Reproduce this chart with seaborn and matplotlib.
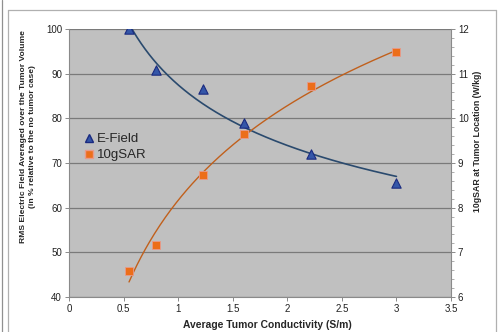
import numpy as np
import pandas as pd
import seaborn as sns
import matplotlib.pyplot as plt
from matplotlib.lines import Line2D
from matplotlib.ticker import MultipleLocator

# data
conductivity = [0.55, 0.8, 1.23, 1.6, 2.22, 3.0]
efield = [100.0, 90.8, 86.5, 79.0, 72.1, 65.5]
sar10g = [6.58, 7.16, 8.74, 9.64, 10.73, 11.49]

df = pd.DataFrame({'cond': conductivity, 'efield': efield, 'sar': sar10g})

# trendlines like the spreadsheet ones: power fit for E-field, log fit for SAR
b, ln_a = np.polyfit(np.log(df['cond']), np.log(df['efield']), 1)
k, c = np.polyfit(np.log(df['cond']), df['sar'], 1)
xs = np.linspace(df['cond'].min(), df['cond'].max(), 200)
trend = pd.DataFrame({'x': xs,
                      'efield': np.exp(ln_a) * xs ** b,
                      'sar': k * np.log(xs) + c})

sns.set_theme(style='white')
plt.rcParams['font.family'] = ['Liberation Sans', 'DejaVu Sans']

fig = plt.figure(figsize=(5.04, 3.32), dpi=100)
ax = fig.add_axes([69/504, 1-297/332, 382/504, 268/332])
ax.set_facecolor('#c0c0c0')
ax2 = ax.twinx()

blue_line = '#2a4a6e'
orange_line = '#c0601c'

sns.lineplot(data=trend, x='x', y='efield', ax=ax, color=blue_line, lw=1.2)
sns.scatterplot(data=df, x='cond', y='efield', ax=ax, marker='^', s=45,
                color='#3456a8', edgecolor='#1a2a80', linewidth=0.8, zorder=5)
sns.lineplot(data=trend, x='x', y='sar', ax=ax2, color=orange_line, lw=1.0)
sns.scatterplot(data=df, x='cond', y='sar', ax=ax2, marker='s', s=36,
                color='#ec6e1a', edgecolor='#e89a8a', linewidth=0.6, zorder=5)

ax.set_xlim(0, 3.5)
ax.set_ylim(40, 100)
ax2.set_ylim(6, 12)
ax.set_xticks(np.arange(0, 3.51, 0.5))
ax.set_xticklabels(['0', '0.5', '1', '1.5', '2', '2.5', '3', '3.5'])
ax.set_yticks(range(40, 101, 10))
ax2.set_yticks(range(6, 13))
ax2.yaxis.set_minor_locator(MultipleLocator(0.2))

ax.yaxis.grid(True, color='#7a7a7a', lw=0.9)
ax.set_axisbelow(True)

for a in (ax, ax2):
    for s in a.spines.values():
        s.set_visible(False)
ax.spines['left'].set_visible(True)
ax.spines['bottom'].set_visible(True)
ax2.spines['right'].set_visible(True)
for s in (ax.spines['left'], ax.spines['bottom'], ax2.spines['right']):
    s.set_color('#8a8a8a')
    s.set_linewidth(0.8)

ax.tick_params(axis='both', which='major', direction='out', length=3, width=0.7,
               color='#8a8a8a', labelsize=7, labelcolor='#222222', pad=2,
               left=True, bottom=True)
ax2.tick_params(axis='y', which='major', direction='out', length=3, width=0.7,
                color='#8a8a8a', labelsize=7, labelcolor='#222222', pad=2, right=True)
ax2.tick_params(axis='y', which='minor', direction='out', length=2, width=0.6,
                color='#a0a0a0', right=True)

ax.set_xlabel('')
ax.set_ylabel('')
ax2.set_ylabel('')

fig.text(267/504, 1-325/332, 'Average Tumor Conductivity (S/m)', ha='center',
         va='center', fontsize=7.4, fontweight='bold')
fig.text(28/504, 1-137/332,
         'RMS Electric Field Averaged over the Tumor Volume\n(in % relative to the no tumor case)',
         ha='center', va='center', rotation=90, fontsize=6.1, fontweight='bold',
         linespacing=1.5)
fig.text(477/504, 1-141/332, '10gSAR at Tumor Location (W/kg)', ha='center',
         va='center', rotation=90, fontsize=6.3, fontweight='bold')

handles = [Line2D([], [], ls='', marker='^', ms=6, color='#3456a8', mec='#1a2a80'),
           Line2D([], [], ls='', marker='s', ms=5.5, color='#ec6e1a', mec='#e89a8a')]
fig.legend(handles, ['E-Field', '10gSAR'], loc='upper left',
           bbox_to_anchor=(86/504, 1-133/332), frameon=False, fontsize=9.5,
           handlelength=0.5, handletextpad=0.3, labelspacing=0.3,
           borderaxespad=0, borderpad=0)

# chart frame
frame_kw = dict(transform=fig.transFigure, color='#b0b0b0', lw=0.9)
fig.add_artist(Line2D([8/504, 8/504], [0, 1-10/332], **frame_kw))
fig.add_artist(Line2D([8/504, 496/504], [1-10/332, 1-10/332], **frame_kw))
fig.add_artist(Line2D([496/504, 496/504], [0, 1-10/332], **frame_kw))
fig.add_artist(Line2D([1.5/504, 1.5/504], [0, 1], transform=fig.transFigure,
                      color='#909090', lw=0.9))

fig.savefig('out.png', dpi=100)
